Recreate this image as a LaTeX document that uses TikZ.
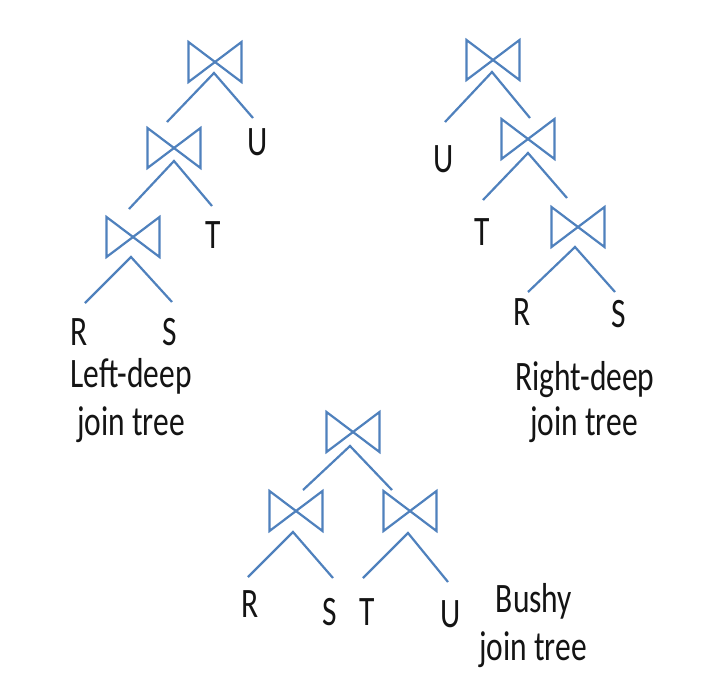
\documentclass[tikz,border=0pt]{standalone}
\usepackage{fontspec}
\setmainfont{Carlito}
\definecolor{jblue}{RGB}{79,129,189}
\definecolor{ink}{RGB}{20,20,20}
\newcommand{\tall}[1]{\scalebox{1}[1.33]{#1}}
\tikzset{
  jbox/.style={minimum width=53pt, minimum height=40pt, inner sep=0pt, outer sep=0pt},
  jline/.style={draw=jblue, line width=2.2pt, line join=miter},
  lbl/.style={anchor=base, inner sep=0pt, text=ink, font=\fontsize{31.5}{38}\selectfont},
}
\newcommand{\jointie}[2]{%
  \node[jbox] (#1) at (#2) {};
  \draw[jline] (#1.north west) -- (#1.south east) -- (#1.north east) -- (#1.south west) -- cycle;}
\begin{document}
\begin{tikzpicture}[x=1pt,y=-1pt]
\useasboundingbox[fill=white] (0,0) rectangle (726,691);
% ---------- Left-deep ----------
\jointie{L1}{215,62}
\jointie{L2}{174,148}
\jointie{L3}{133,237}
\coordinate (l1a) at (214,73);  \coordinate (l1l) at (167,122); \coordinate (l1r) at (253,118);
\coordinate (l2a) at (174,161); \coordinate (l2l) at (129,209); \coordinate (l2r) at (212,206);
\coordinate (l3a) at (131,257); \coordinate (l3l) at (85,303);  \coordinate (l3r) at (172,302);
\draw[jline] (l1l) -- (l1a) -- (l1r);
\draw[jline] (l2l) -- (l2a) -- (l2r);
\draw[jline] (l3l) -- (l3a) -- (l3r);
\node[lbl] (lU) at (258,155) {\tall{U}};
\node[lbl] (lT) at (213,248) {\tall{T}};
\node[lbl] (lR) at (79,345) {\tall{R}};
\node[lbl] (lS) at (170,345) {\tall{S}};
\node[lbl] (lcap1) at (131,387) {\tall{Left-deep}};
\node[lbl] (lcap2) at (131,435) {\tall{join tree}};
% ---------- Right-deep ----------
\jointie{R1}{493,60}
\jointie{R2}{528,139}
\jointie{R3}{578,227}
\coordinate (r1a) at (492,72);  \coordinate (r1l) at (445,122); \coordinate (r1r) at (530,118);
\coordinate (r2a) at (528,153); \coordinate (r2l) at (483,200); \coordinate (r2r) at (567,198);
\coordinate (r3a) at (575,247); \coordinate (r3l) at (528,292); \coordinate (r3r) at (615,292);
\draw[jline] (r1l) -- (r1a) -- (r1r);
\draw[jline] (r2l) -- (r2a) -- (r2r);
\draw[jline] (r3l) -- (r3a) -- (r3r);
\node[lbl] (rU) at (444,172) {\tall{U}};
\node[lbl] (rT) at (482,245) {\tall{T}};
\node[lbl] (rR) at (522,325) {\tall{R}};
\node[lbl] (rS) at (619,327) {\tall{S}};
\node[lbl] (rcap1) at (585,390) {\tall{Right-deep}};
\node[lbl] (rcap2) at (584,435) {\tall{join tree}};
% ---------- Bushy ----------
\jointie{B1}{353,432}
\jointie{B2}{296,511}
\jointie{B3}{410,511}
\coordinate (b1a) at (350,446); \coordinate (b1l) at (303,490); \coordinate (b1r) at (392,490);
\coordinate (b2a) at (293,532); \coordinate (b2l) at (248,577); \coordinate (b2r) at (333,578);
\coordinate (b3a) at (408,533); \coordinate (b3l) at (363,578); \coordinate (b3r) at (448,582);
\draw[jline] (b1l) -- (b1a) -- (b1r);
\draw[jline] (b2l) -- (b2a) -- (b2r);
\draw[jline] (b3l) -- (b3a) -- (b3r);
\node[lbl] (bR) at (250,617) {\tall{R}};
\node[lbl] (bS) at (330,625) {\tall{S}};
\node[lbl] (bT) at (367,625) {\tall{T}};
\node[lbl] (bU) at (451,627) {\tall{U}};
\node[lbl] (bcap1) at (534,612) {\tall{Bushy}};
\node[lbl] (bcap2) at (533,660) {\tall{join tree}};
\end{tikzpicture}
\end{document}
